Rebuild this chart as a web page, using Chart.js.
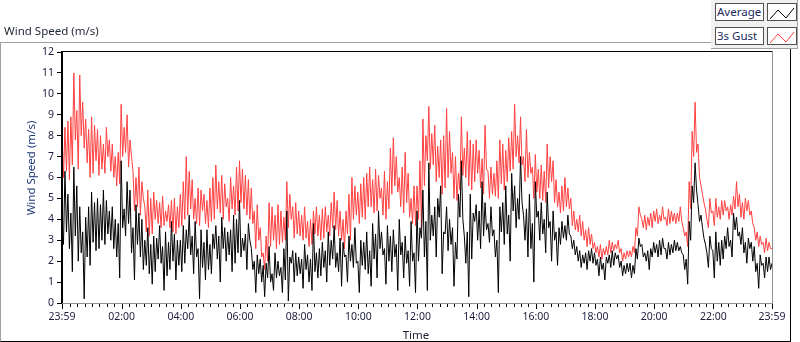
<!DOCTYPE html>
<html>
<head>
<meta charset="utf-8">
<script src="https://cdn.jsdelivr.net/npm/chart.js@4/dist/chart.umd.min.js"></script>
<style>
  html, body { margin: 0; padding: 0; background: #fff; }
  body { width: 800px; height: 342px; position: relative; overflow: hidden; font-family: "Noto Sans", sans-serif; }
  .frame { position: absolute; left: 0; top: 42px; width: 789px; height: 298px;
    border-top: 1px solid #a0a0a0; border-left: 1px solid #a0a0a0;
    border-right: 1px solid #000; border-bottom: 1px solid #000; }
  .chart-wrap { position: absolute; left: 0; top: 0; width: 800px; height: 342px; }
  .title { position: absolute; left: 4px; top: 23px; font-size: 11.5px; color: #1c2433; }
  .x-title { position: absolute; left: 416px; top: 334px; font-size: 11.5px; color: #1c2433;
    transform: translate(-50%, -50%); }
  .legend { position: absolute; left: 711px; top: 0; width: 86px; height: 48px; background: #f0f0f0;
    border-right: 1px solid #a0a0a0; border-bottom: 1px solid #a0a0a0; }
  .leg-label { position: absolute; left: 4px; width: 46px; height: 16px; background: #fff;
    border: 1px solid #505050; font-size: 11.5px; color: #1a2a60; line-height: 16px; padding-left: 1px; }
  .leg-swatch { position: absolute; left: 56px; width: 28px; height: 16px; background: #fff; border: 1px solid #505050; }
</style>
</head>
<body>
<div class="frame"></div>
<div class="chart-wrap"><canvas id="windChart"></canvas></div>
<div class="title">Wind Speed (m/s)</div>
<div class="x-title">Time</div>
<div class="legend">
  <div class="leg-label" style="top:3px">Average</div>
  <div class="leg-swatch" style="top:3px"><svg width="28" height="16"><polyline points="2,14 10,5 18,13 26,3" fill="none" stroke="#000" stroke-width="1"/></svg></div>
  <div class="leg-label" style="top:27px">3s Gust</div>
  <div class="leg-swatch" style="top:27px"><svg width="28" height="16"><polyline points="2,14 10,5 18,13 26,3" fill="none" stroke="#ff4040" stroke-width="1"/></svg></div>
</div>
<script>
// wind speed samples every 3 minutes, starting 23:59
const averageSpeed = [
  3.9, 2.8, 6.3, 3.4, 5.2, 2.6, 4.3, 1.5,  6.5, 3.2, 5.6, 2.0, 4.6, 2.4, 3.4, 0.2,
  4.1, 2.2, 4.6, 1.8, 5.3, 2.9, 4.8, 2.5,  5.0, 2.6, 4.7, 3.0, 5.4, 2.8, 4.9, 3.3,
  4.4, 3.0, 4.6, 2.6, 4.0, 2.2, 3.8, 1.2,  6.8, 3.6, 4.5, 3.2, 5.8, 3.8, 5.4, 2.4,
  3.6, 1.1, 4.7, 2.8, 4.3, 2.2, 4.0, 1.6,  3.0, 1.8, 3.6, 1.4, 2.8, 0.9, 3.2, 1.5,
  3.1, 2.1, 3.7, 1.9, 2.7, 0.6, 3.4, 1.3,  2.9, 1.6, 3.9, 2.0, 3.3, 1.1, 3.0, 1.8,
  3.0, 1.5, 3.7, 1.9, 3.5, 2.6, 4.2, 2.3,  3.2, 1.4, 3.9, 2.2, 2.6, 0.2, 3.5, 1.7,
  2.9, 1.1, 3.5, 1.6, 2.8, 1.4, 3.3, 2.6,  3.7, 2.1, 3.2, 1.0, 4.1, 2.6, 3.6, 2.0,
  3.4, 2.3, 3.5, 1.5, 4.2, 1.9, 4.0, 2.4,  4.9, 2.2, 3.1, 2.5, 3.3, 1.6, 3.8, 3.0,
  2.6, 1.6, 2.0, 0.5, 2.3, 1.4, 2.1, 1.0,  1.8, 0.3, 1.9, 1.2, 2.7, 1.0, 1.4, 0.6,
  2.4, 1.2, 2.0, 1.3, 1.7, 0.5, 2.6, 1.1,  4.4, 0.1, 2.2, 1.9, 2.5, 1.0, 2.4, 1.3,
  2.2, 1.4, 2.1, 0.7, 2.8, 1.6, 2.3, 1.0,  2.1, 0.6, 3.8, 1.5, 2.4, 1.2, 2.6, 1.3,
  2.9, 1.7, 2.5, 1.0, 3.4, 1.8, 3.0, 2.1,  3.7, 1.7, 2.4, 1.5, 3.1, 0.8, 2.9, 2.2,
  2.3, 1.0, 3.2, 2.0, 2.8, 1.7, 3.6, 1.9,  2.0, 0.5, 3.0, 1.8, 2.9, 1.6, 3.4, 1.4,
  2.5, 0.8, 3.8, 2.1, 3.3, 1.2, 4.4, 2.6,  3.4, 2.3, 2.6, 0.9, 3.7, 2.0, 3.2, 1.5,
  3.5, 2.2, 2.8, 0.6, 4.0, 2.3, 2.9, 1.2,  3.2, 1.9, 2.5, 0.8, 3.9, 2.0, 2.4, 0.5,
  4.4, 2.0, 3.6, 3.1, 5.4, 2.2, 3.9, 0.6,  6.7, 3.0, 4.2, 3.2, 4.6, 2.2, 5.0, 4.1,
  5.6, 1.4, 3.4, 3.3, 4.6, 2.5, 4.0, 2.8,  3.6, 0.8, 2.9, 2.1, 5.2, 4.1, 6.8, 4.0,
  3.2, 1.9, 3.4, 0.3, 5.2, 2.1, 4.3, 3.9,  4.7, 3.0, 4.4, 2.6, 5.8, 3.2, 4.8, 3.5,
  3.8, 2.9, 4.6, 3.2, 3.5, 2.2, 3.0, 0.5,  4.6, 3.4, 4.8, 2.8, 5.6, 3.3, 4.2, 2.0,
  6.2, 4.4, 5.6, 3.6, 5.0, 4.0, 7.0, 4.8,  4.2, 3.0, 4.5, 2.2, 5.2, 2.6, 3.8, 1.0,
  5.8, 4.1, 4.4, 3.0, 4.8, 3.3, 4.0, 2.4,  5.3, 3.6, 3.9, 2.0, 4.4, 3.0, 3.4, 1.8,
  3.6, 2.8, 3.9, 3.1, 3.7, 3.0, 4.2, 3.3,  3.2, 2.6, 3.0, 2.3, 2.7, 2.0, 2.5, 1.7,
  2.3, 1.9, 2.4, 1.6, 2.5, 2.0, 2.6, 1.9,  2.4, 1.8, 2.1, 1.3, 2.2, 1.6, 1.9, 1.1,
  2.2, 1.9, 2.3, 1.7, 2.5, 1.8, 2.4, 2.1,  2.3, 1.7, 2.0, 1.3, 1.8, 1.4, 1.9, 1.5,
  1.9, 1.2, 1.8, 1.4, 2.6, 2.1, 3.1, 2.7,  2.8, 2.2, 2.4, 2.0, 2.5, 1.6, 2.6, 2.2,
  2.9, 2.4, 2.8, 2.2, 3.0, 2.3, 3.1, 2.6,  2.6, 2.1, 2.9, 2.3, 2.8, 2.4, 3.0, 2.5,
  2.9, 2.5, 2.7, 2.4, 2.3, 1.6, 2.1, 0.9,  3.9, 3.0, 5.6, 4.8, 6.7, 5.4, 4.7, 3.9,
  4.2, 3.6, 3.1, 2.8, 2.4, 1.7, 3.2, 2.6,  2.5, 1.2, 3.4, 2.0, 2.9, 1.8, 3.0, 2.1,
  3.2, 2.6, 3.6, 2.7, 3.0, 2.2, 4.3, 3.5,  4.1, 3.2, 3.4, 2.8, 3.6, 2.4, 2.9, 1.9,
  3.1, 2.6, 2.9, 2.0, 2.7, 1.5, 1.9, 0.7,  2.3, 1.8, 1.9, 1.2, 2.2, 1.5, 2.2, 1.6,
  1.9
];
const gustSpeed = [
  8.2, 6.0, 8.4, 6.3, 8.7, 5.9, 8.9, 6.6,  11.0, 7.8, 9.2, 6.4, 10.9, 8.0, 9.6, 7.4,
  8.8, 6.7, 8.3, 6.0, 8.9, 6.2, 8.5, 6.8,  8.3, 6.1, 8.0, 6.4, 7.6, 6.2, 8.4, 7.0,
  7.8, 6.3, 7.6, 6.0, 7.0, 5.6, 7.2, 5.7,  9.5, 7.0, 8.4, 7.2, 9.0, 6.5, 7.8, 7.0,
  6.3, 4.4, 6.0, 4.6, 6.5, 4.2, 5.8, 5.0,  4.6, 3.4, 5.4, 3.2, 5.0, 3.3, 5.3, 4.0,
  4.9, 3.8, 4.8, 3.6, 5.1, 3.7, 4.4, 3.9,  4.7, 3.6, 4.9, 3.4, 5.0, 3.3, 4.6, 3.6,
  5.2, 3.7, 5.8, 4.0, 7.0, 4.2, 6.3, 4.5,  5.9, 4.0, 5.0, 3.8, 5.5, 3.7, 5.4, 4.4,
  5.2, 3.8, 4.9, 3.6, 5.5, 3.9, 6.0, 4.0,  6.6, 4.5, 5.8, 4.3, 6.1, 4.0, 5.7, 4.6,
  5.0, 3.9, 6.0, 4.5, 5.6, 4.2, 6.5, 4.4,  6.8, 4.8, 6.4, 4.5, 6.1, 4.2, 5.9, 4.0,
  5.5, 3.8, 4.4, 2.6, 4.7, 3.0, 3.6, 2.2,  2.4, 1.6, 3.2, 2.0, 4.8, 2.7, 4.6, 3.0,
  4.2, 2.6, 4.7, 2.8, 4.4, 2.9, 4.1, 3.0,  5.8, 3.6, 5.2, 4.0, 4.6, 3.1, 4.8, 3.3,
  4.4, 3.2, 4.2, 3.0, 4.6, 3.1, 3.9, 2.7,  4.0, 2.8, 4.4, 3.3, 4.6, 3.2, 4.2, 3.0,
  4.5, 3.1, 4.6, 3.4, 4.2, 3.2, 4.8, 3.6,  5.3, 3.5, 4.9, 3.2, 4.4, 3.0, 4.0, 2.6,
  4.4, 3.3, 5.2, 3.0, 6.0, 4.0, 5.6, 4.2,  5.3, 3.8, 5.7, 4.1, 6.0, 4.0, 6.2, 4.6,
  6.5, 4.6, 5.9, 4.3, 6.4, 4.4, 6.1, 5.0,  5.5, 4.2, 6.3, 4.0, 5.8, 4.5, 7.4, 5.2,
  7.9, 5.6, 7.0, 5.3, 6.0, 4.6, 6.5, 4.3,  7.2, 4.8, 6.2, 4.1, 5.0, 3.8, 5.6, 3.7,
  5.6, 4.0, 6.8, 3.6, 8.8, 5.6, 8.0, 6.8,  9.4, 6.4, 8.1, 6.6, 8.5, 5.8, 7.5, 6.0,
  7.8, 5.2, 8.0, 5.5, 9.3, 6.0, 8.2, 6.2,  7.2, 5.0, 7.0, 4.9, 6.2, 5.4, 8.9, 6.1,
  7.4, 6.0, 8.2, 5.6, 7.8, 5.4, 7.6, 5.8,  7.8, 6.2, 7.3, 5.5, 6.9, 5.2, 8.5, 6.4,
  6.3, 5.0, 6.5, 5.2, 6.2, 5.1, 6.8, 5.0,  7.8, 5.7, 7.6, 5.4, 7.3, 5.8, 7.9, 6.3,
  8.2, 6.4, 9.5, 7.0, 8.0, 6.7, 8.9, 6.6,  7.0, 5.8, 8.3, 6.0, 7.2, 6.2, 6.5, 5.0,
  7.1, 5.3, 6.4, 5.0, 6.6, 4.9, 6.3, 4.8,  7.6, 5.5, 7.0, 5.8, 6.8, 4.8, 5.9, 4.6,
  5.3, 4.3, 5.6, 4.4, 6.0, 4.6, 5.5, 4.5,  5.0, 3.7, 4.4, 3.5, 4.0, 3.4, 4.2, 3.2,
  3.9, 3.0, 3.5, 2.7, 3.6, 2.8, 3.3, 2.6,  2.9, 2.4, 2.7, 2.2, 2.8, 2.1, 2.6, 2.3,
  2.7, 2.3, 3.0, 2.4, 2.9, 2.5, 2.8, 2.6,  3.0, 2.4, 2.6, 2.0, 2.4, 2.1, 2.5, 2.2,
  2.5, 2.2, 2.7, 2.4, 3.6, 3.2, 4.6, 4.2,  4.0, 3.6, 4.2, 3.5, 4.1, 3.7, 4.3, 3.6,
  4.4, 3.9, 4.5, 3.8, 4.2, 3.9, 4.6, 4.0,  4.1, 3.7, 4.5, 3.8, 4.4, 3.9, 4.3, 3.8,
  4.3, 3.9, 4.6, 3.9, 3.6, 3.2, 3.4, 2.7,  5.8, 4.5, 8.2, 7.0, 9.6, 7.2, 7.6, 6.0,
  5.6, 5.2, 4.8, 4.5, 4.0, 3.6, 5.0, 4.3,  4.4, 3.7, 5.0, 4.1, 4.6, 4.0, 4.9, 4.2,
  4.9, 4.4, 4.6, 4.0, 4.7, 4.2, 5.1, 4.5,  5.8, 4.6, 5.2, 4.1, 4.8, 4.0, 5.0, 4.4,
  4.9, 4.2, 4.4, 3.8, 3.6, 3.0, 3.4, 2.7,  3.2, 2.8, 2.9, 2.4, 3.1, 2.5, 2.9, 2.6,
  2.6
];
const startMinute = -1;   // 23:59 of the previous day
const sampleStep = 3;     // minutes between samples
const timeTickMinutes = [-1, 120, 240, 360, 480, 600, 720, 840, 960, 1080, 1200, 1320, 1439];
const timeTickLabels = ['23:59', '02:00', '04:00', '06:00', '08:00', '10:00', '12:00',
  '14:00', '16:00', '18:00', '20:00', '22:00', '23:59'];
const speedTicks = [0, 1, 2, 3, 4, 5, 6, 7, 8, 9, 10, 11, 12];
const yAxisTitle = 'Wind Speed (m/s)';

const toPoints = (values) => values.map((v, i) => ({ x: startMinute + i * sampleStep, y: v }));

const minorTicks = [];
for (let m = 15; m < 1439; m += 15) {
  if (!timeTickMinutes.includes(m)) minorTicks.push(m);
}

const framePlugin = {
  id: 'labviewFrame',
  afterDraw(chart) {
    const { ctx, chartArea: a, scales } = chart;
    ctx.save();
    // x tick marks: long for labelled times, short every 15 min
    ctx.fillStyle = '#000';
    scales.x.ticks.forEach((t) => {
      const px = Math.round(scales.x.getPixelForValue(t.value));
      const major = timeTickMinutes.includes(t.value);
      ctx.fillRect(px, a.bottom + 1, 1, major ? 5 : 3);
    });
    // plot frame: dark top/left, grey bottom/right
    ctx.fillRect(a.left - 1, a.top - 1, a.right - a.left + 1, 1);
    ctx.fillRect(a.left - 1, a.top - 1, 2, a.bottom - a.top + 1);
    ctx.fillStyle = '#909090';
    ctx.fillRect(a.left, a.bottom, a.right - a.left, 1);
    ctx.fillRect(a.right, a.top - 1, 1, a.bottom - a.top + 2);
    // y axis title, sits a little above the axis centre
    ctx.translate(32, 168);
    ctx.rotate(-Math.PI / 2);
    ctx.fillStyle = '#1e3a78';
    ctx.font = '11.5px "Noto Sans"';
    ctx.textAlign = 'center';
    ctx.textBaseline = 'middle';
    ctx.fillText(yAxisTitle, 0, 0);
    ctx.restore();
  }
};

new Chart(document.getElementById('windChart'), {
  type: 'line',
  data: {
    datasets: [
      {
        label: 'Average',
        data: toPoints(averageSpeed),
        borderColor: '#000000',
        borderWidth: 1,
        pointRadius: 0,
        tension: 0
      },
      {
        label: '3s Gust',
        data: toPoints(gustSpeed),
        borderColor: '#ff4040',
        borderWidth: 1,
        pointRadius: 0,
        tension: 0
      }
    ]
  },
  options: {
    responsive: true,
    maintainAspectRatio: false,
    animation: false,
    events: [],
    layout: { padding: { top: 52, right: 28, left: 0, bottom: 0 } },
    plugins: { legend: { display: false }, tooltip: { enabled: false } },
    scales: {
      x: {
        type: 'linear',
        min: -1,
        max: 1439,
        afterBuildTicks: (scale) => {
          scale.ticks = timeTickMinutes.concat(minorTicks).sort((a, b) => a - b).map((v) => ({ value: v }));
        },
        afterFit: (scale) => { scale.height = 39; },
        grid: { drawOnChartArea: false, drawTicks: false },
        border: { display: false },
        ticks: {
          autoSkip: false,
          maxRotation: 0,
          minRotation: 0,
          padding: 8,
          color: '#1c1c3c',
          font: { family: 'Noto Sans', size: 10.5 },
          callback: (value) => {
            const idx = timeTickMinutes.indexOf(value);
            return idx >= 0 ? timeTickLabels[idx] : '';
          }
        }
      },
      y: {
        min: 0,
        max: 12,
        afterBuildTicks: (scale) => { scale.ticks = speedTicks.map((v) => ({ value: v })); },
        afterFit: (scale) => { scale.width = 62; },
        grid: { drawOnChartArea: false, tickLength: 5, color: '#000' },
        border: { display: false },
        ticks: {
          padding: 3,
          color: '#1c1c3c',
          font: { family: 'Noto Sans', size: 10.5 }
        }
      }
    }
  },
  plugins: [framePlugin]
});
</script>
</body>
</html>
